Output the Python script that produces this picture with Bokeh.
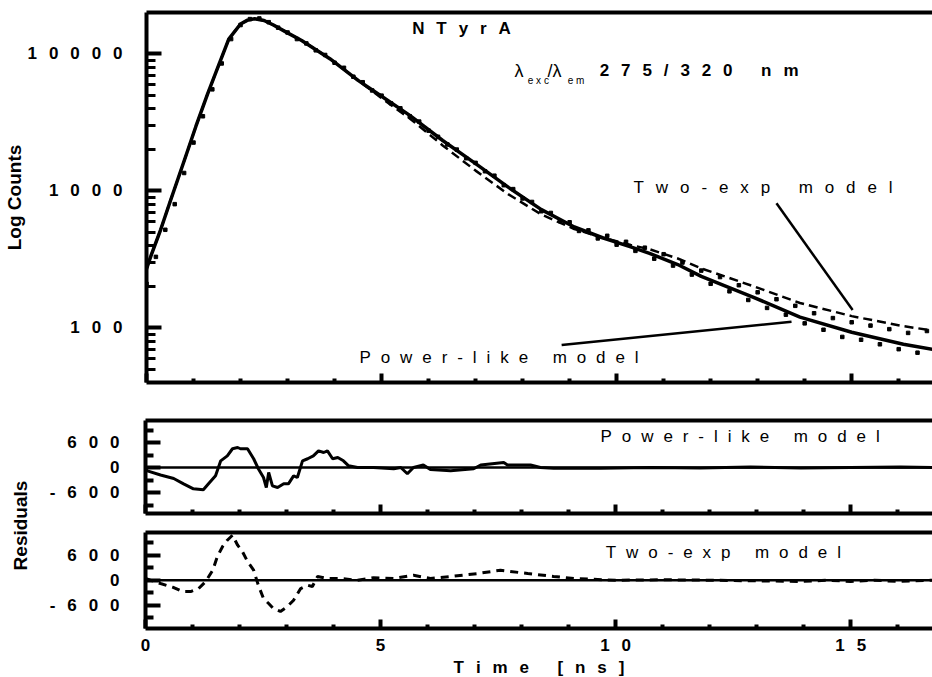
from math import pi
from bokeh.plotting import figure
from bokeh.layouts import column, row
from bokeh.models import Range1d, LinearAxis, FixedTicker, Label, Span
from bokeh.embed import file_html
from bokeh.resources import INLINE

# ---------------- data ----------------
t_fit = [0.0, 0.1, 0.3, 0.5, 0.8, 1.05, 1.3, 1.55, 1.75, 2.0, 2.15, 2.3, 2.5, 2.7, 3.0,
         3.3, 3.9, 4.5, 5.0, 5.6, 6.3, 7.0, 7.7, 8.4, 9.1, 9.7, 10.3, 10.7, 11.3, 11.8,
         12.9, 13.9, 15.0, 16.1, 16.8]
power_fit = [270, 340, 520, 830, 1650, 2950, 5100, 8500, 12800, 16500, 17600, 18000, 17500,
             16200, 14200, 12500, 9200, 6400, 4900, 3550, 2330, 1580, 1060, 730, 545, 455,
             390, 350, 290, 238, 168, 120, 93, 76, 69]
twoexp_fit = [270, 340, 520, 830, 1650, 2950, 5100, 8500, 12800, 16500, 17600, 18000, 17500,
              16200, 14200, 12500, 9200, 6400, 4740, 3375, 2145, 1405, 942, 672, 527, 455,
              403, 375, 321, 272, 202, 152, 122, 103, 95]

t_data = [0.0, 0.2, 0.4, 0.6, 0.8, 1.0, 1.2, 1.4, 1.6, 1.8, 2.0, 2.2, 2.4, 2.6, 2.8, 3.0,
          3.2, 3.4, 3.6, 3.8, 4.0, 4.2, 4.4, 4.6, 4.8, 5.0, 5.2, 5.4, 5.6, 5.8, 6.0, 6.2,
          6.4, 6.6, 6.8, 7.0, 7.2, 7.4, 7.6, 7.8, 8.0, 8.2, 8.4, 8.6, 8.8, 9.0, 9.2, 9.4,
          9.6, 9.8, 10.0, 10.2, 10.4, 10.6, 10.8, 11.0, 11.2, 11.4, 11.6, 11.8, 12.0, 12.2,
          12.4, 12.6, 12.8, 13.0, 13.2, 13.4, 13.6, 13.8, 14.0, 14.2, 14.4, 14.6, 14.8, 15.0,
          15.2, 15.4, 15.6, 15.8, 16.0, 16.2, 16.4, 16.6, 16.8]
counts_data = [210, 330, 520, 800, 1350, 2250, 3500, 5500, 8500, 12800, 16200, 17900, 18100,
               17000, 15500, 14300, 12800, 11900, 10600, 9800, 8600, 7900, 6800, 6200, 5400,
               4950, 4350, 4000, 3500, 3200, 2750, 2480, 2180, 2000, 1730, 1600, 1390, 1290,
               1100, 1030, 880, 830, 710, 690, 600, 590, 510, 515, 450, 470, 405, 425, 365,
               385, 320, 345, 285, 300, 245, 262, 210, 235, 185, 205, 160, 182, 140, 162,
               125, 145, 108, 128, 97, 118, 86, 110, 82, 104, 76, 98, 70, 92, 66, 95, 64]

t_res_power = [0.0, 0.04, 0.32, 0.6, 0.81, 1.02, 1.23, 1.34, 1.49, 1.6, 1.74, 1.85, 1.96, 2.02,
               2.17, 2.3, 2.4, 2.51, 2.57, 2.62, 2.7, 2.81, 2.94, 3.04, 3.15, 3.23, 3.34, 3.45,
               3.57, 3.68, 3.79, 3.87, 3.98, 4.09, 4.21, 4.32, 4.51, 4.85, 5.28, 5.43, 5.57,
               5.7, 5.91, 6.06, 6.49, 6.98, 7.13, 7.62, 7.7, 8.19, 8.4, 8.68, 9.68, 10.74,
               11.8, 12.87, 13.94, 15.0, 16.06, 16.74]
res_power = [-40, -80, -180, -264, -392, -512, -536, -392, -200, 160, 280, 450, 480, 450, 450,
             210, -30, -240, -480, -120, -440, -480, -392, -392, -200, -240, 160, 210, 280,
             400, 360, 400, 210, 240, 160, 40, 0, 0, -30, 0, -150, 0, 60, -50, -80, -30, 60,
             120, 60, 60, 0, -20, -20, 0, -10, 10, -10, 0, 10, 0]

t_res_two = [0.0, 0.32, 0.6, 0.79, 0.96, 1.13, 1.28, 1.43, 1.53, 1.64, 1.74, 1.85, 1.96, 2.06,
             2.17, 2.3, 2.4, 2.51, 2.62, 2.72, 2.87, 3.02, 3.15, 3.3, 3.45, 3.55, 3.66, 3.87,
             4.15, 4.51, 4.85, 5.28, 5.7, 6.06, 6.49, 7.06, 7.55, 8.13, 8.68, 9.11, 10.0,
             11.0, 12.0, 13.94, 14.5, 15.0, 15.5, 16.0, 16.74]
res_two = [40, -80, -176, -272, -272, -200, -30, 240, 570, 810, 960, 1080, 840, 690, 450, 240,
           -120, -440, -560, -680, -750, -630, -480, -200, -120, -150, 90, 40, 40, 0, 60, 40,
           120, 40, 90, 160, 240, 160, 90, 40, 0, 10, 0, -30, 0, -30, 0, -30, 0]

x_major = [0, 5, 10, 15]
x_minor = [1, 2, 3, 4, 6, 7, 8, 9, 11, 12, 13, 14, 16]
x_labels = {0: "0", 5: "5", 10: "10", 15: "15"}
y_major = [100, 1000, 10000]
y_minor = [50, 60, 70, 80, 90, 200, 300, 400, 500, 600, 700, 800, 900,
           2000, 3000, 4000, 5000, 6000, 7000, 8000, 9000]
y_labels = {100: "100", 1000: "1000", 10000: "10000"}
r_major = [-600, 0, 600]
r_minor = [-900, -300, 300, 900]
r_labels = {-600: "-600", 0: "0", 600: "600"}

FONT = "Liberation Sans"
SEP = "\u2002\u2009"        # wide letter spacing of the original lettering
SEP_MODEL = "\u2002\u200a"


def spaced(s, sep=SEP):
    return sep.join(s)


def base_fig(**kw):
    p = figure(output_backend="svg", toolbar_location=None, **kw)
    p.outline_line_color = None
    p.grid.visible = False
    p.background_fill_color = "white"
    p.border_fill_color = "white"
    return p


def style_axis(ax, major_in, minor_in, minor_w=4, ticks=None, labels=None):
    ax.axis_line_width = 4
    ax.axis_line_color = "black"
    ax.major_tick_in = major_in
    ax.major_tick_out = 0
    ax.minor_tick_in = minor_in
    ax.minor_tick_out = 0
    ax.major_tick_line_width = 4
    ax.minor_tick_line_width = minor_w
    ax.major_tick_line_color = "black"
    ax.minor_tick_line_color = "black"
    ax.major_label_text_font = FONT
    ax.major_label_text_font_style = "bold"
    ax.major_label_text_font_size = "17px"
    ax.major_label_text_color = "black"
    if labels is None:
        ax.major_label_overrides = {k: "" for k in ticks}
        ax.major_label_standoff = 0
    else:
        ax.major_label_overrides = {k: spaced(v) for k, v in labels.items()}


def add_top_border(p):
    ax = LinearAxis(ticker=FixedTicker(ticks=[]))
    ax.axis_line_width = 4
    ax.major_label_standoff = 0
    ax.major_tick_in = 0
    ax.major_tick_out = 0
    ax.minor_tick_in = 0
    ax.minor_tick_out = 0
    p.add_layout(ax, "above")


def lab(p, x, y, text, size, bold=False, align="left", baseline="middle", angle=0.0):
    p.add_layout(Label(x=x, y=y, text=text, text_font=FONT, text_font_size=f"{size}px",
                       text_font_style="bold" if bold else "normal", text_align=align,
                       text_baseline=baseline, angle=angle, text_color="black"))


# ---------------- top panel: decay ----------------
top = base_fig(frame_width=787, frame_height=370, min_border_left=145, min_border_right=0,
               min_border_top=12, min_border_bottom=18, x_range=Range1d(0, 16.74),
               y_range=Range1d(40, 20000), y_axis_type="log")
style_axis(top.xaxis[0], 9, 4, ticks=x_major)
top.xaxis[0].ticker = FixedTicker(ticks=x_major, minor_ticks=x_minor)
style_axis(top.yaxis[0], 15, 9, minor_w=3, labels=y_labels)
top.yaxis[0].ticker = FixedTicker(ticks=y_major, minor_ticks=y_minor)
top.yaxis[0].major_label_standoff = 24
top.yaxis[0].axis_label = "Log Counts"
top.yaxis[0].axis_label_text_font = FONT
top.yaxis[0].axis_label_text_font_style = "bold"
top.yaxis[0].axis_label_text_font_size = "19px"
top.yaxis[0].axis_label_text_color = "black"
top.yaxis[0].axis_label_standoff = 0
add_top_border(top)

top.scatter(t_data, counts_data, marker="square", size=3.5, color="black")
top.line(t_fit, twoexp_fit, line_width=2.5, line_dash="9 5", color="black")
top.line(t_fit, power_fit, line_width=3.5, color="black")

# leader lines from the model names to the curves
top.segment(x0=13.40, y0=811, x1=15.02, y1=135, line_width=2.5, color="black")
top.segment(x0=8.83, y0=75, x1=13.72, y1=111, line_width=2.5, color="black")

lab(top, 6.70, 15200, spaced("NTyrA"), 17, bold=True, align="center")
lab(top, 7.83, 7520, "\u03bb", 18)
lab(top, 8.11, 6370, spaced("exc", " "), 10)
lab(top, 8.53, 7520, "/\u03bb", 18)
lab(top, 8.96, 6370, spaced("em", " "), 10)
lab(top, 9.64, 7520, spaced("275/320 nm"), 17, bold=True)
lab(top, 10.36, 1060, spaced("Two-exp model"), 17)
lab(top, 4.53, 60.5, spaced("Power-like model", SEP_MODEL), 17)

# ---------------- residual panels ----------------
mid = base_fig(frame_width=787, frame_height=93, min_border_left=105, min_border_right=0,
               min_border_top=20, min_border_bottom=7, x_range=top.x_range,
               y_range=Range1d(-1104, 1128))
style_axis(mid.xaxis[0], 9, 4, ticks=x_major)
mid.xaxis[0].ticker = FixedTicker(ticks=x_major, minor_ticks=x_minor)
style_axis(mid.yaxis[0], 15, 8, minor_w=4, labels=r_labels)
mid.yaxis[0].ticker = FixedTicker(ticks=r_major, minor_ticks=r_minor)
mid.yaxis[0].major_label_standoff = 26
add_top_border(mid)
mid.add_layout(Span(location=0, dimension="width", line_width=2.5, line_color="black"))
mid.line(t_res_power, res_power, line_width=3, color="black")
lab(mid, 9.68, 737, spaced("Power-like model", SEP_MODEL), 17)

bot = base_fig(frame_width=787, frame_height=96, min_border_left=105, min_border_right=0,
               min_border_top=12, min_border_bottom=49, x_range=top.x_range,
               y_range=Range1d(-1159, 1145))
style_axis(bot.xaxis[0], 9, 4, labels=x_labels)
bot.xaxis[0].ticker = FixedTicker(ticks=x_major, minor_ticks=x_minor)
bot.xaxis[0].major_label_standoff = 7
bot.xaxis[0].axis_label = spaced("Time [ns]")
bot.xaxis[0].axis_label_text_font = FONT
bot.xaxis[0].axis_label_text_font_style = "bold"
bot.xaxis[0].axis_label_text_font_size = "17px"
bot.xaxis[0].axis_label_text_color = "black"
bot.xaxis[0].axis_label_standoff = 0
style_axis(bot.yaxis[0], 15, 8, minor_w=4, labels=r_labels)
bot.yaxis[0].ticker = FixedTicker(ticks=r_major, minor_ticks=r_minor)
bot.yaxis[0].major_label_standoff = 26
add_top_border(bot)
bot.add_layout(Span(location=0, dimension="width", line_width=2.5, line_color="black"))
bot.line(t_res_two, res_two, line_width=3, line_dash="8 6", color="black")
lab(bot, 9.79, 665, spaced("Two-exp model", SEP_MODEL), 17)

# label column for "Residuals", shared by both residual panels
side_res = base_fig(width=40, height=277, x_range=Range1d(0, 1), y_range=Range1d(0, 1),
                    x_axis_location=None, y_axis_location=None, min_border=0)
lab(side_res, 0.5, 1 - 125 / 277, "Residuals", 19, bold=True, align="center", angle=pi / 2)

layout = column(top, row(side_res, column(mid, bot)))
open("out.html", "w").write(file_html(layout, INLINE))
